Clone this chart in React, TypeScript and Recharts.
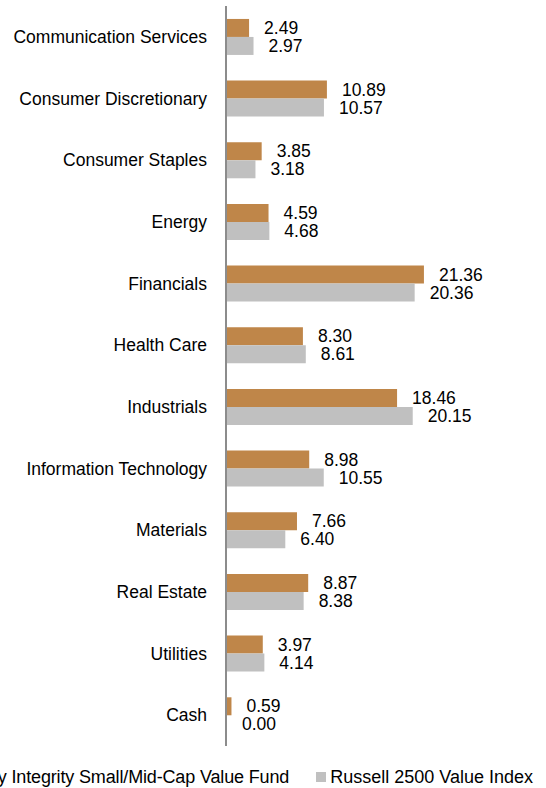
import React from "react";
import { BarChart, Bar, XAxis, YAxis, Legend, LabelList } from "recharts";

const categories = [
  "Communication Services",
  "Consumer Discretionary",
  "Consumer Staples",
  "Energy",
  "Financials",
  "Health Care",
  "Industrials",
  "Information Technology",
  "Materials",
  "Real Estate",
  "Utilities",
  "Cash",
];

const fundValues = [2.49, 10.89, 3.85, 4.59, 21.36, 8.3, 18.46, 8.98, 7.66, 8.87, 3.97, 0.59];
const indexValues = [2.97, 10.57, 3.18, 4.68, 20.36, 8.61, 20.15, 10.55, 6.4, 8.38, 4.14, 0.0];

const fundName = "Victory Integrity Small/Mid-Cap Value Fund";
const indexName = "Russell 2500 Value Index";

const FUND_COLOR = "#BF8649";
const INDEX_COLOR = "#C0C0C0";
const FONT = "'Liberation Sans', Arial, sans-serif";

const legendItems = [
  { name: fundName, color: FUND_COLOR },
  { name: indexName, color: INDEX_COLOR },
];

const data = categories.map((name, i) => ({
  name,
  fund: fundValues[i],
  index: indexValues[i],
}));

const fmt = (v: any) => Number(v).toFixed(2);

const LegendContent = () => {
  return (
    <div
      style={{
        display: "flex",
        justifyContent: "flex-end",
        alignItems: "center",
        whiteSpace: "nowrap",
        paddingRight: 13,
        height: 24,
        lineHeight: "24px",
        fontFamily: FONT,
        fontSize: 18,
        color: "#000",
      }}
    >
      {legendItems.map((entry, i) => (
        <div
          key={i}
          style={{
            display: "flex",
            alignItems: "center",
            flexShrink: 0,
            marginLeft: i === 0 ? 0 : 27,
          }}
        >
          <span
            style={{
              display: "inline-block",
              width: 10,
              height: 10,
              background: entry.color,
              marginRight: 4,
              flexShrink: 0,
            }}
          />
          <span style={{ letterSpacing: i === 0 ? -0.15 : 0 }}>{entry.name}</span>
        </div>
      ))}
    </div>
  );
};

export default function App() {
  return (
    <div style={{ position: "absolute", left: 0, top: 0, width: 546, height: 788, overflow: "hidden", background: "#fff" }}>
      <BarChart
        width={546}
        height={788}
        data={data}
        layout="vertical"
        margin={{ top: 6, right: 42, bottom: 18, left: 0 }}
        barCategoryGap="21%"
        barGap={0}
      >
        <XAxis type="number" domain={[0, 30]} hide />
        <YAxis
          type="category"
          dataKey="name"
          width={226}
          tickLine={false}
          tickSize={0}
          tickMargin={19}
          axisLine={{ stroke: "#8C8C8C", strokeWidth: 2 }}
          tick={{ fill: "#000", fontSize: 17.5, fontFamily: FONT }}
          interval={0}
        />
        <Legend
          verticalAlign="bottom"
          content={<LegendContent />}
          wrapperStyle={{ left: 0, width: 546, bottom: -1, height: 24 }}
        />
        <Bar dataKey="fund" name={fundName} fill={FUND_COLOR} isAnimationActive={false} minPointSize={1}>
          <LabelList
            dataKey="fund"
            position="right"
            offset={15}
            formatter={fmt}
            style={{ fill: "#000", fontSize: 17.5, fontFamily: FONT }}
          />
        </Bar>
        <Bar dataKey="index" name={indexName} fill={INDEX_COLOR} isAnimationActive={false} minPointSize={1}>
          <LabelList
            dataKey="index"
            position="right"
            offset={15}
            formatter={fmt}
            style={{ fill: "#000", fontSize: 17.5, fontFamily: FONT }}
          />
        </Bar>
      </BarChart>
    </div>
  );
}
